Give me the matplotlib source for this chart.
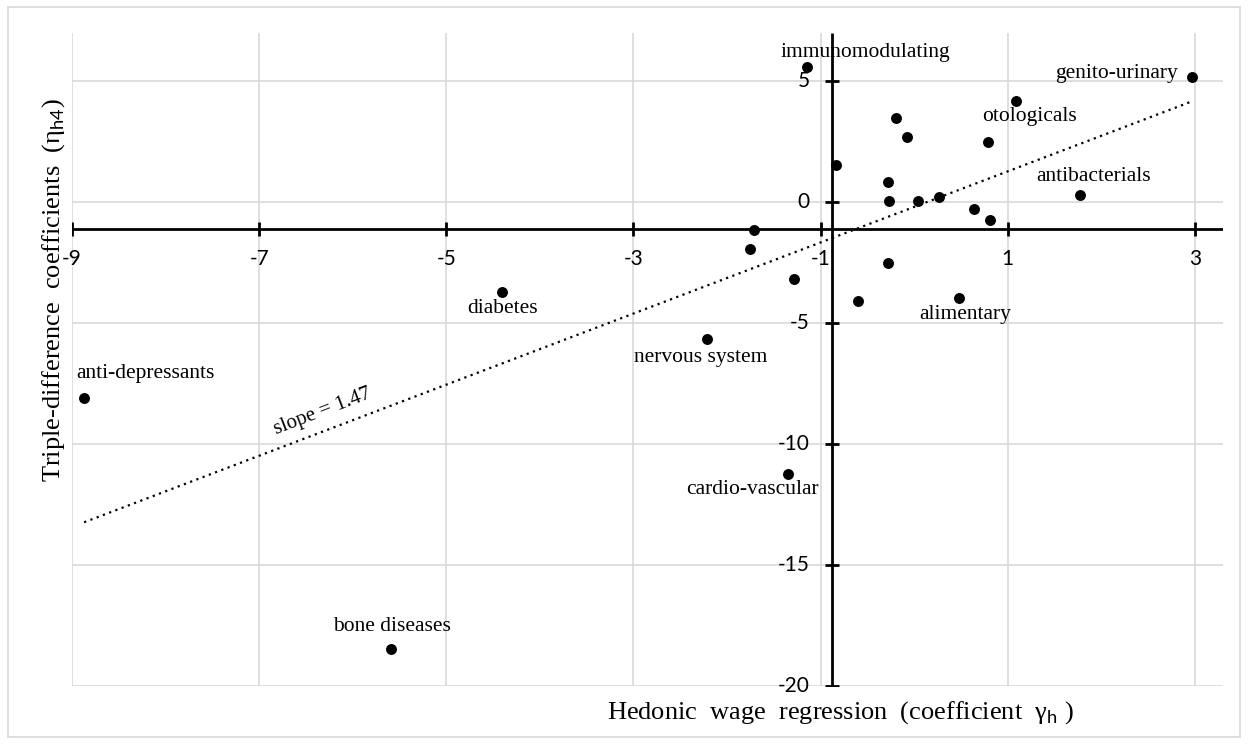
import numpy as np
import matplotlib.pyplot as plt
from matplotlib.patches import Rectangle

plt.rcParams['mathtext.fontset'] = 'custom'
plt.rcParams['mathtext.rm'] = 'Lato'

# Hedonic wage coefficient (x) vs triple-difference coefficient (y), one point per drug class
hedonic = [-1.15, 2.97, 1.09, -0.19, -0.08, 0.79, 1.77, -0.84, -0.28, -0.27,
           0.04, 0.26, 0.64, 0.81, -1.71, -1.75, -1.28, -0.28, -0.60, 0.48,
           -2.21, -1.35, -4.40, -8.87, -5.59]
triple = [5.59, 5.17, 4.17, 3.50, 2.70, 2.49, 0.32, 1.54, 0.84, 0.07,
          0.07, 0.22, -0.28, -0.72, -1.16, -1.94, -3.17, -2.53, -4.09, -3.95,
          -5.64, -11.23, -3.69, -8.09, -18.45]

# labelled classes
label_names = ['immunomodulating', 'genito-urinary', 'otologicals', 'antibacterials',
               'alimentary', 'nervous system', 'cardio-vascular', 'diabetes',
               'anti-depressants', 'bone diseases']

# linear trend
slope = 1.47
intercept = -0.19

x_ticks = [-9, -7, -5, -3, -1, 1, 3]
y_ticks = [5, 0, -5, -10, -15, -20]

# where the two axes cross
x_cross = -0.88
y_cross = -1.1

# label anchor points (x centre, baseline)
label_pos = {
    'immunomodulating': (-0.52, 6.0),
    'genito-urinary': (2.16, 5.15),
    'otologicals': (1.23, 3.36),
    'antibacterials': (1.92, 0.89),
    'alimentary': (0.55, -4.84),
    'nervous system': (-2.28, -6.62),
    'cardio-vascular': (-1.73, -12.07),
    'diabetes': (-4.40, -4.59),
    'anti-depressants': (-8.22, -7.27),
    'bone diseases': (-5.58, -17.72),
}

serif = 'Liberation Serif'
sans = 'Lato'

fig = plt.figure(figsize=(12.48, 7.44), dpi=100)
ax = fig.add_axes([72 / 1248, 1 - 686 / 744, (1223 - 72) / 1248, (686 - 33) / 744])

ax.set_xlim(-9, 3.3)
ax.set_ylim(-20, 7)
for s in ax.spines.values():
    s.set_visible(False)
ax.set_xticks([])
ax.set_yticks([])

grid_c = '#d9d9d9'
for t in x_ticks:
    ax.plot([t, t], [-20, 7], color=grid_c, lw=1.2, zorder=1)
for t in y_ticks:
    ax.plot([-9, 3.3], [t, t], color=grid_c, lw=1.2, zorder=1)

# axis lines crossing inside the plot
ax.plot([-9, 3.3], [y_cross, y_cross], color='black', lw=2, zorder=3, solid_capstyle='butt')
ax.plot([x_cross, x_cross], [-20, 7], color='black', lw=2, zorder=3, solid_capstyle='butt')
ax.plot(x_ticks, [y_cross] * len(x_ticks), ls='none', marker='|', ms=10, mew=2,
        color='black', zorder=3)
ax.plot([x_cross] * len(y_ticks), y_ticks, ls='none', marker='_', ms=10, mew=2,
        color='black', zorder=3)

for t in x_ticks:
    ax.annotate(str(t), xy=(t, y_cross), xytext=(0, -22), textcoords='offset points',
                ha='center', va='center', fontsize=15, family=sans, zorder=2)
for t in y_ticks:
    ax.annotate(str(t), xy=(x_cross, t), xytext=(-16, 0), textcoords='offset points',
                ha='right', va='center', fontsize=15, family=sans, zorder=2)

# trend line over the data range
xs = np.array([min(hedonic), max(hedonic)])
ax.plot(xs, slope * xs + intercept, color='black', lw=1.6, ls=(0, (1, 2)), zorder=4)
ax.text(-6.32, -8.66, f'slope = {slope}', rotation=21, ha='center', va='center',
        fontsize=15, family=serif)

ax.scatter(hedonic, triple, s=62, color='black', zorder=5, linewidths=0)

for name in label_names:
    lx, ly = label_pos[name]
    ax.text(lx, ly, name, ha='center', va='baseline', fontsize=15.5, family=serif, zorder=6)

fig.text(840 / 1248, 1 - 719 / 744,
         'Hedonic  wage  regression  (coefficient  γ$_{\\mathrm{h}}$ )',
         ha='center', va='baseline', fontsize=19, family=serif)
fig.text(54 / 1248, 1 - 290 / 744,
         'Triple-difference  coefficients  (η$_{\\mathrm{h4}}$)',
         ha='center', va='center', rotation=90, fontsize=19, family=serif)

fig.patches.append(Rectangle((8 / 1248, 7 / 744), 1232 / 1248, 730 / 744,
                             transform=fig.transFigure, fill=False,
                             edgecolor=grid_c, lw=1.2))

fig.savefig('out.png', dpi=100)
